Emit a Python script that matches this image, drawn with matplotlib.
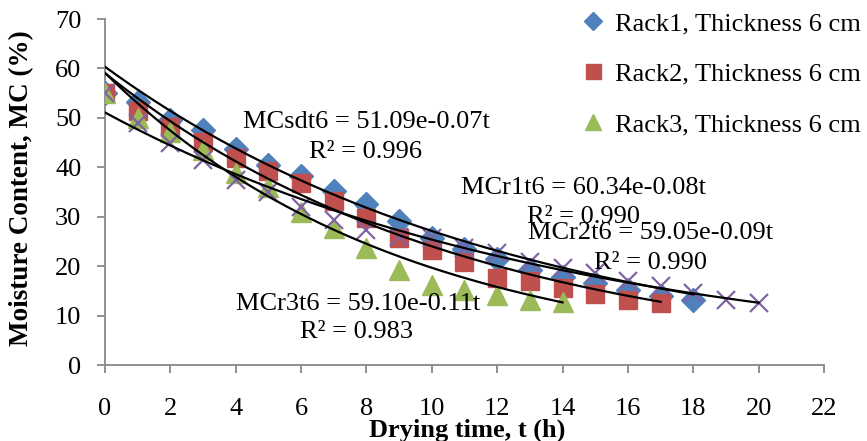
import numpy as np
import matplotlib
matplotlib.use("Agg")
import matplotlib.pyplot as plt

plt.rcParams['font.family'] = ['Liberation Serif', 'DejaVu Serif']

# drying time (h) and measured moisture content (%) per rack
t_rack1 = list(range(0, 19))
mc_rack1 = [55.0, 53.2, 49.6, 47.6, 43.7, 40.4, 38.3, 35.2, 32.6, 29.1, 25.7,
            23.4, 21.4, 19.2, 17.9, 16.6, 15.2, 14.0, 13.1]
t_rack2 = list(range(0, 18))
mc_rack2 = [55.0, 51.3, 48.2, 45.2, 41.8, 39.2, 36.8, 33.1, 29.7, 25.6, 23.3,
            20.9, 17.6, 16.9, 15.5, 14.3, 13.2, 12.6]
t_rack3 = list(range(0, 15))
mc_rack3 = [55.0, 50.0, 47.2, 43.5, 38.8, 36.1, 31.0, 27.7, 23.6, 19.2, 16.1,
            15.2, 14.2, 13.2, 12.8]
t_sdt = list(range(0, 21))
mc_sdt = [55.0, 49.0, 44.9, 41.5, 37.4, 35.1, 32.0, 29.4, 27.3, 25.8, 25.6,
          23.6, 22.6, 20.9, 19.6, 18.6, 16.9, 15.9, 14.5, 13.2, 12.5]

# exponential trendlines MC = a*exp(b*t), with R²
fit_sdt = (51.09, -0.07, 0.996)
fit_r1 = (60.34, -0.08, 0.990)
fit_r2 = (59.05, -0.09, 0.990)
fit_r3 = (59.10, -0.11, 0.983)

blue = '#4F81BD'
red = '#C0504D'
green = '#9BBB59'
purple = '#8064A2'
axis_grey = '#888888'

fig = plt.figure(figsize=(8.67, 4.41), dpi=100)
ax = fig.add_axes([0.1211, 0.1723, 0.8293, 0.7846])

ax.plot(t_rack1, mc_rack1, 'D', color=blue, ms=12, mec=blue, ls='none',
        label='Rack1, Thickness 6 cm', zorder=3)
ax.plot(t_rack2, mc_rack2, 's', color=red, ms=13.5, mec=red, ls='none',
        label='Rack2, Thickness 6 cm', zorder=3)
ax.plot(t_rack3, mc_rack3, '^', color=green, ms=14.5, mec=green, ls='none',
        label='Rack3, Thickness 6 cm', zorder=3)
ax.plot(t_sdt, mc_sdt, 'x', color=purple, ms=13, mew=1.6, ls='none', zorder=3)

for (a, b, r2), t in [(fit_sdt, t_sdt), (fit_r1, t_rack1),
                      (fit_r2, t_rack2), (fit_r3, t_rack3)]:
    tt = np.linspace(0, t[-1], 200)
    ax.plot(tt, a * np.exp(b * tt), color='black', lw=1.6, zorder=4)

fs = 19
labels = [
    ('MCsdt6', fit_sdt, (7.99, 49.2), (7.96, 43.1)),
    ('MCr1t6', fit_r1, (14.65, 35.8), (14.63, 29.9)),
    ('MCr2t6', fit_r2, (16.68, 26.7), (16.68, 20.6)),
    ('MCr3t6', fit_r3, (7.74, 12.3), (7.71, 6.7)),
]
for name, (a, b, r2), eq_pos, r_pos in labels:
    ax.text(*eq_pos, f'{name} = {a:.2f}e{b:.2f}t', ha='center', va='center',
            fontsize=fs, zorder=5)
    ax.text(*r_pos, f'R² = {r2:.3f}', ha='center', va='center',
            fontsize=fs, zorder=5)

ax.set_xlim(0, 22)
ax.set_ylim(0, 70)
ax.set_xticks(range(0, 23, 2))
ax.set_yticks(range(0, 71, 10))
for side in ['top', 'right']:
    ax.spines[side].set_visible(False)
for side in ['left', 'bottom']:
    ax.spines[side].set_color(axis_grey)
    ax.spines[side].set_linewidth(1.3)
ax.tick_params(axis='both', colors=axis_grey, labelcolor='black',
               labelsize=fs, length=6, width=1.3)
ax.tick_params(axis='x', pad=18)
ax.tick_params(axis='y', pad=11)

fig.text(0.0254, 0.574, 'Moisture Content, MC (%)', rotation=90,
         ha='center', va='center', fontsize=19.5, fontweight='bold')
fig.text(0.539, 0.025, 'Drying time, t (h)', ha='center', va='center',
         fontsize=19, fontweight='bold')

fig.legend(loc='upper left', bbox_to_anchor=(0.648, 1.015), frameon=False,
           fontsize=fs, labelspacing=1.02, handletextpad=0.3,
           handlelength=1.0, borderpad=0.2, markerscale=0.8)

fig.savefig('out.png', dpi=100)
